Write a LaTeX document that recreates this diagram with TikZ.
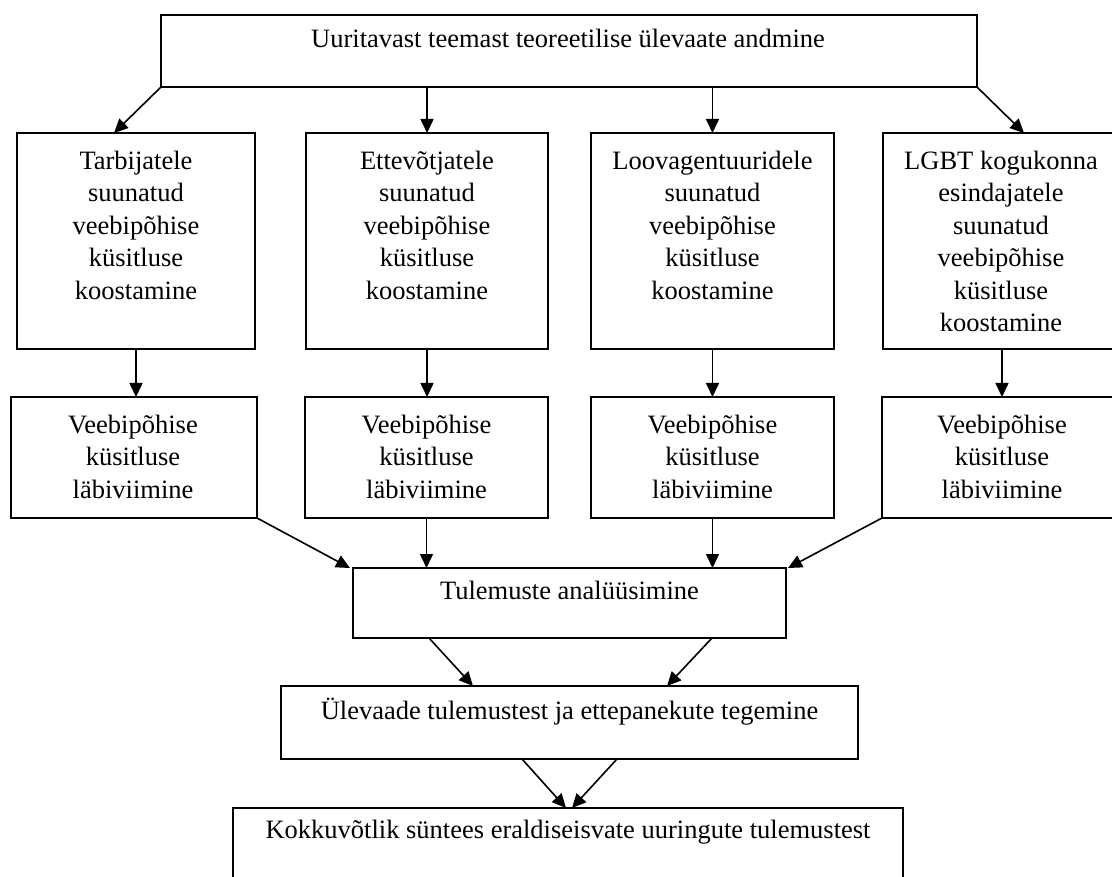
\documentclass[tikz,border=0pt]{standalone}
\usepackage{fontspec}
\setmainfont{Liberation Serif}
\usetikzlibrary{arrows.meta,calc}
\begin{document}
\begin{tikzpicture}[x=1pt,y=-1pt,
  box/.style={draw,line width=1.8pt,inner sep=0pt,outer sep=0pt,anchor=north west},
  lbl/.style={inner sep=0pt,align=center,font=\fontsize{26.5}{32.5}\selectfont},
  arr/.style={line width=1.6pt,-{Triangle[length=14pt,width=13pt]}}]
\clip (0,0) rectangle (1112,877);
% boxes
\node[box,minimum width=816pt,minimum height=72pt] (top) at (161,15) {};
\node[box,minimum width=238pt,minimum height=216pt] (b1) at (17,133) {};
\node[box,minimum width=242pt,minimum height=216pt] (b2) at (306,133) {};
\node[box,minimum width=243pt,minimum height=216pt] (b3) at (591,133) {};
\node[box,minimum width=238pt,minimum height=216pt] (b4) at (883,133) {};
\node[box,minimum width=246pt,minimum height=121pt] (c1) at (11,397) {};
\node[box,minimum width=243pt,minimum height=121pt] (c2) at (305,397) {};
\node[box,minimum width=243pt,minimum height=121pt] (c3) at (591,397) {};
\node[box,minimum width=240pt,minimum height=121pt] (c4) at (882,397) {};
\node[box,minimum width=433pt,minimum height=70pt] (tul) at (353,568) {};
\node[box,minimum width=577pt,minimum height=73pt] (ulv) at (281,686) {};
\node[box,minimum width=670pt,minimum height=92pt] (kok) at (233,808) {};
% texts
\node[lbl,anchor=base] (ttop) at (568,48) {Uuritavast teemast teoreetilise ülevaate andmine};
\node[lbl,anchor=north] (tb1) at (136,150.5) {Tarbijatele\\suunatud\\veebipõhise\\küsitluse\\koostamine};
\node[lbl,anchor=north] (tb2) at (427,150.5) {Ettevõtjatele\\suunatud\\veebipõhise\\küsitluse\\koostamine};
\node[lbl,anchor=north] (tb3) at (712.5,150.5) {Loovagentuuridele\\suunatud\\veebipõhise\\küsitluse\\koostamine};
\node[lbl,anchor=north] (tb4) at (1001,150.5) {LGBT kogukonna\\esindajatele\\suunatud\\veebipõhise\\küsitluse\\koostamine};
\node[lbl,anchor=north] (tc1) at (133,414.5) {Veebipõhise\\küsitluse\\läbiviimine};
\node[lbl,anchor=north] (tc2) at (426.5,414.5) {Veebipõhise\\küsitluse\\läbiviimine};
\node[lbl,anchor=north] (tc3) at (712.5,414.5) {Veebipõhise\\küsitluse\\läbiviimine};
\node[lbl,anchor=north] (tc4) at (1002,414.5) {Veebipõhise\\küsitluse\\läbiviimine};
\node[lbl,anchor=base] (ttul) at (569.5,599) {Tulemuste analüüsimine};
\node[lbl,anchor=base] (tulv) at (569.5,719) {Ülevaade tulemustest ja ettepanekute tegemine};
\node[lbl,anchor=base] (tkok) at (568,838) {Kokkuvõtlik süntees eraldiseisvate uuringute tulemustest};
% connectors
\draw[arr] (top.south west) -- ([xshift=-22pt]b1.north);
\draw[arr] (top.south -| b2.north) -- (b2.north);
\draw[arr] (top.south -| b3.north) -- (b3.north);
\draw[arr] (top.south east) -- ([xshift=22pt]b4.north);
\draw[arr] (b1.south) -- (b1.south |- c1.north);
\draw[arr] (b2.south) -- (b2.south |- c2.north);
\draw[arr] (b3.south) -- (b3.south |- c3.north);
\draw[arr] (b4.south) -- (b4.south |- c4.north);
\draw[arr] (c1.south east) -- ([xshift=-3pt]tul.north west);
\draw[arr] (c2.south) -- (c2.south |- tul.north);
\draw[arr] (c3.south) -- (c3.south |- tul.north);
\draw[arr] (c4.south west) -- ([xshift=2pt]tul.north east);
\draw[arr] ([xshift=76pt]tul.south west) -- ([xshift=192pt]ulv.north west);
\draw[arr] ([xshift=-74pt]tul.south east) -- ([xshift=-191pt]ulv.north east);
\draw[arr] ([xshift=241pt]ulv.south west) -- ([xshift=333pt]kok.north west);
\draw[arr] ([xshift=336pt]ulv.south west) -- ([xshift=339pt]kok.north west);
\end{tikzpicture}
\end{document}
